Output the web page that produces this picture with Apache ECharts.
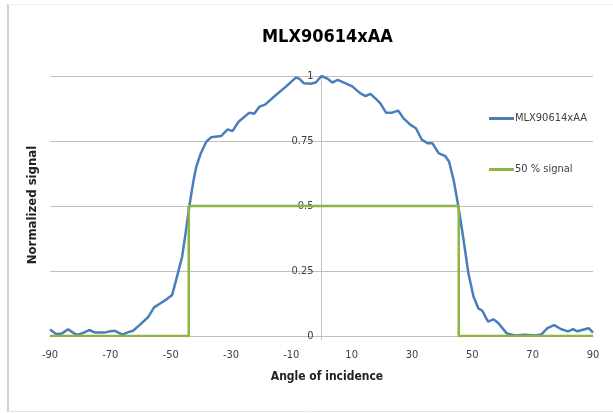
<!DOCTYPE html>
<html>
<head>
<meta charset="utf-8">
<script src="https://cdn.jsdelivr.net/npm/echarts@6/dist/echarts.min.js"></script>
<style>html,body{margin:0;padding:0;background:#fff}#c{width:613px;height:413px}</style>
</head>
<body>
<div id="c"></div>
<script>
var angles = [-90,-88,-86,-84,-82,-81,-79,-77,-75,-72,-70,-68.5,-66,-64,-62.5,-60.5,-57.5,-55.5,-53.5,-52,-49.5,-48.2,-46.2,-44.9,-43.8,-42.4,-41.5,-40,-38.2,-36.6,-33.3,-31.1,-29.5,-27.5,-23.9,-22.3,-20.6,-18.7,-15.1,-11.8,-8.5,-7.4,-5.8,-3.6,-1.9,0,1.9,3.6,5.4,8,10.2,12.9,14.6,16.2,18.4,19.5,21.4,23.4,25.4,27.2,29.5,31.3,33.3,35.3,36.8,38.8,41,42.3,43.8,45.4,47.1,48.7,50.4,52,53.3,55.2,57,58.6,61.4,64.1,67.4,70.7,72.9,74.9,77.1,79.5,81.7,83.4,84.8,87.3,88.6,90];
var signal = [0.025,0.008,0.01,0.026,0.01,0.004,0.012,0.023,0.013,0.013,0.018,0.02,0.005,0.015,0.02,0.04,0.072,0.11,0.125,0.136,0.158,0.215,0.305,0.408,0.5,0.6,0.651,0.703,0.747,0.764,0.769,0.795,0.788,0.824,0.859,0.855,0.882,0.89,0.927,0.959,0.994,0.99,0.972,0.97,0.975,1.0,0.99,0.975,0.985,0.972,0.96,0.933,0.923,0.931,0.908,0.895,0.859,0.859,0.867,0.837,0.812,0.799,0.754,0.741,0.741,0.703,0.692,0.67,0.6,0.497,0.369,0.241,0.151,0.106,0.097,0.055,0.064,0.05,0.01,0.002,0.005,0.002,0.006,0.03,0.042,0.026,0.018,0.026,0.018,0.026,0.03,0.013];
var halfAngles = [-90,-44,-44,45.5,45.5,90];
var halfSignal = [0,0,0.5,0.5,0,0];
var xTickLabels = [-90,-70,-50,-30,-10,10,30,50,70,90];
var yTickLabels = ['0','0.25','0.5','0.75','1'];

var mainData = angles.map(function(a,i){return [a, signal[i]];});
var halfData = halfAngles.map(function(a,i){return [a, halfSignal[i]];});
var FONT = '"Liberation Sans Narrow","DejaVu Sans Condensed","Open Sans",sans-serif';

var chart = echarts.init(document.getElementById('c'), null, {renderer:'canvas'});
chart.setOption({
  animation:false,
  backgroundColor:'#fff',
  title:{text:'MLX90614xAA', left:257, top:23, textStyle:{fontFamily:FONT, fontWeight:'bold', fontSize:18, color:'#000'}},
  grid:{left:50, right:20, top:76, bottom:77, containLabel:false, outerBoundsMode:'none'},
  legend:{orient:'vertical', left:484, top:108, itemWidth:25, itemHeight:3, itemGap:40, icon:'rect',
    textStyle:{fontFamily:FONT, fontSize:11, color:'#404040', padding:[0,0,0,-4]},
    data:['MLX90614xAA','50 % signal']},
  xAxis:{type:'value', min:-90, max:90, interval:10,
    axisLine:{show:true, onZero:false, lineStyle:{color:'#bfbfbf', width:1}},
    axisTick:{show:true, customValues:[0], length:4, lineStyle:{color:'#bfbfbf'}},
    splitLine:{show:false},
    axisLabel:{fontFamily:FONT, fontSize:11, color:'#404040', margin:14,
      formatter:function(v){return xTickLabels.indexOf(v)>=0 ? String(v) : '';}}},
  yAxis:{type:'value', min:0, max:1, interval:0.25, position:'left', offset:-271.5,
    axisLine:{show:true, onZero:false, lineStyle:{color:'#bfbfbf', width:1}},
    axisTick:{show:false},
    splitLine:{show:true, lineStyle:{color:'#bfbfbf', width:1}},
    axisLabel:{fontFamily:FONT, fontSize:11, color:'#404040', margin:8,
      formatter:function(v){return yTickLabels[Math.round(v*4)];}}},
  series:[
    {name:'MLX90614xAA', type:'line', data:mainData, showSymbol:false, symbol:'none',
      lineStyle:{color:'#4a7ebb', width:2.5}, itemStyle:{color:'#4a7ebb'}},
    {name:'50 % signal', type:'line', data:halfData, showSymbol:false, symbol:'none',
      lineStyle:{color:'#8db543', width:2.5}, itemStyle:{color:'#8db543'}}
  ],
  graphic:[
    {type:'text', x:33, y:205, rotation:Math.PI/2, silent:true,
      style:{text:'Normalized signal', fontFamily:FONT, fontWeight:'bold', fontSize:13, fill:'#222', align:'center', verticalAlign:'middle'}},
    {type:'text', x:327, y:377, silent:true,
      style:{text:'Angle of incidence', fontFamily:FONT, fontWeight:'bold', fontSize:12, fill:'#222', align:'center', verticalAlign:'middle'}},
    {type:'line', shape:{x1:8, y1:4, x2:8, y2:412}, style:{stroke:'#c4c4c4', lineWidth:1.5}, silent:true},
    {type:'line', shape:{x1:8, y1:411.5, x2:613, y2:411.5}, style:{stroke:'#e2e2e2', lineWidth:1}, silent:true},
    {type:'line', shape:{x1:8, y1:4.5, x2:613, y2:4.5}, style:{stroke:'#f2f2f2', lineWidth:1}, silent:true}
  ]
});
</script>
</body>
</html>
